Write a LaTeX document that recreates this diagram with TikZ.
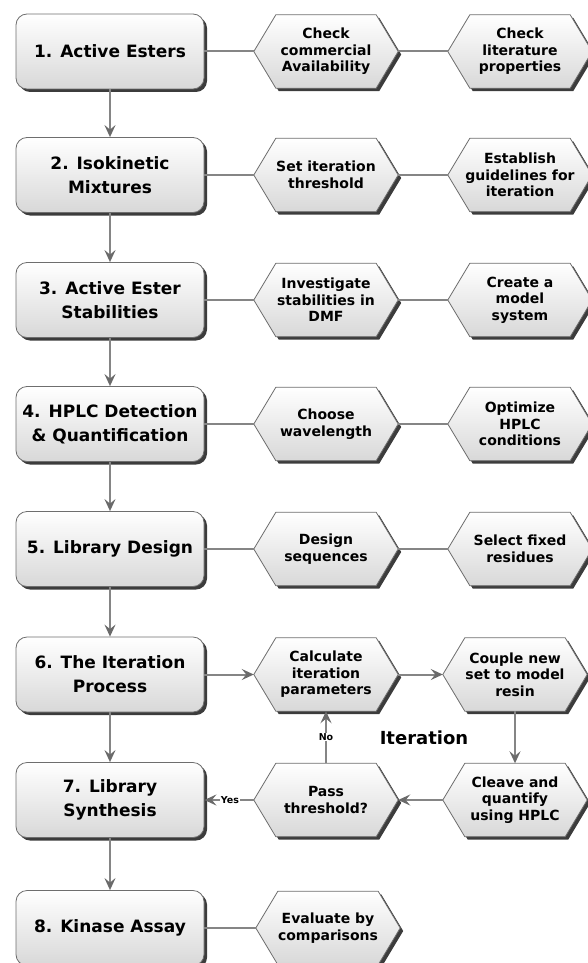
\documentclass[tikz,border=0pt]{standalone}
\usepackage{fontspec}
\setmainfont{DejaVu Sans}
\usetikzlibrary{shadows,arrows.meta}
\definecolor{edgegray}{HTML}{6E6E6E}
\definecolor{linegray}{HTML}{858585}
\definecolor{arrowgray}{HTML}{6A6A6A}
\definecolor{shadowgray}{HTML}{3C3C3C}
\definecolor{fillbottom}{HTML}{D8D8D8}
\pgfdeclarelayer{bg}
\pgfsetlayers{bg,main}
\tikzset{
  stepbox/.style={rectangle, rounded corners=11pt, draw=edgegray, line width=0.8pt,
    top color=white, bottom color=fillbottom, minimum width=188pt, minimum height=75pt,
    inner sep=0pt, align=center, font=\fontsize{17}{24}\selectfont\bfseries,
    drop shadow={shadow xshift=3pt, shadow yshift=-3pt, fill=shadowgray, opacity=1}},
  hexnode/.style={rectangle, minimum width=144pt, minimum height=73pt, inner sep=0pt,
    align=center, font=\fontsize{14}{16.5}\selectfont\bfseries},
  hexshape/.style={draw=edgegray, line width=0.8pt, top color=white, bottom color=fillbottom,
    drop shadow={shadow xshift=3pt, shadow yshift=-3pt, fill=shadowgray, opacity=1}},
  link/.style={draw=linegray, line width=2pt},
  flow/.style={link, -{Stealth[length=12pt,width=11pt,inset=4.5pt,color=arrowgray]}},
  smalllabel/.style={font=\fontsize{9.5}{11}\selectfont\bfseries, fill=white, inner sep=0.6pt},
}
\begin{document}
\begin{tikzpicture}[x=1pt,y=-1pt]
\useasboundingbox (0,0) rectangle (587,963);
% main steps
\node[stepbox] (b1) at (110,51.5) {1. Active Esters};
\node[stepbox] (b2) at (110,175) {2. Isokinetic\\Mixtures};
\node[stepbox] (b3) at (110,300) {3. Active Ester\\Stabilities};
\node[stepbox] (b4) at (110,424) {4. HPLC Detection\\\& Quantification};
\node[stepbox] (b5) at (110,549) {5. Library Design};
\node[stepbox] (b6) at (110,674.5) {6. The Iteration\\Process};
\node[stepbox] (b7) at (110,800) {7. Library\\Synthesis};
\node[stepbox] (b8) at (110,928) {8. Kinase Assay};
% hexagon texts
\node[hexnode] (a1) at (326,51.5) {Check\\commercial\\Availability};
\node[hexnode] (c1) at (520,51.5) {Check\\literature\\properties};
\node[hexnode] (a2) at (326,175) {Set iteration\\threshold};
\node[hexnode] (c2) at (520,175) {Establish\\guidelines for\\iteration};
\node[hexnode] (a3) at (326,300) {Investigate\\stabilities in\\DMF};
\node[hexnode] (c3) at (520,300) {Create a\\model\\system};
\node[hexnode] (a4) at (326,424) {Choose\\wavelength};
\node[hexnode] (c4) at (520,424) {Optimize\\HPLC\\conditions};
\node[hexnode] (a5) at (326,549) {Design\\sequences};
\node[hexnode] (c5) at (520,549) {Select fixed\\residues};
\node[hexnode] (a6) at (326,674.5) {Calculate\\iteration\\parameters};
\node[hexnode] (c6) at (515,674.5) {Couple new\\set to model\\resin};
\node[hexnode] (a7) at (326,800) {Pass\\threshold?};
\node[hexnode] (c7) at (515,800) {Cleave and\\quantify\\using HPLC};
\node[hexnode] (a8) at (328,928) {Evaluate by\\comparisons};
\begin{pgfonlayer}{bg}
\foreach \n in {a1,c1,a2,c2,a3,c3,a4,c4,a5,c5,a6,c6,a7,c7,a8}{
  \path[hexshape] (\n.west) -- ([xshift=22pt]\n.north west) -- ([xshift=-22pt]\n.north east)
    -- (\n.east) -- ([xshift=-22pt]\n.south east) -- ([xshift=22pt]\n.south west) -- cycle;
}
\end{pgfonlayer}
% plain links
\foreach \r in {1,2,3,4,5}{
  \draw[link] (b\r.east) -- (a\r.west);
  \draw[link] (a\r.east) -- (c\r.west);
}
\draw[link] (b8.east) -- (a8.west);
% step arrows
\foreach \i/\j in {1/2,2/3,3/4,4/5,5/6,6/7,7/8}{
  \draw[flow] (b\i.south) -- (b\j.north);
}
% iteration loop
\draw[flow] (b6.east) -- (a6.west);
\draw[flow] (a6.east) -- (c6.west);
\draw[flow] (c6.south) -- (c7.north);
\draw[flow] (c7.west) -- (a7.east);
\draw[flow] (a7.north) -- node[smalllabel] (no) {No} (a6.south);
\draw[flow] (a7.west) -- (b7.east);
\node[smalllabel] (yes) at (230,800) {Yes};
\node[font=\fontsize{18}{22}\selectfont\bfseries] (iter) at (424,738) {Iteration};
\end{tikzpicture}
\end{document}
